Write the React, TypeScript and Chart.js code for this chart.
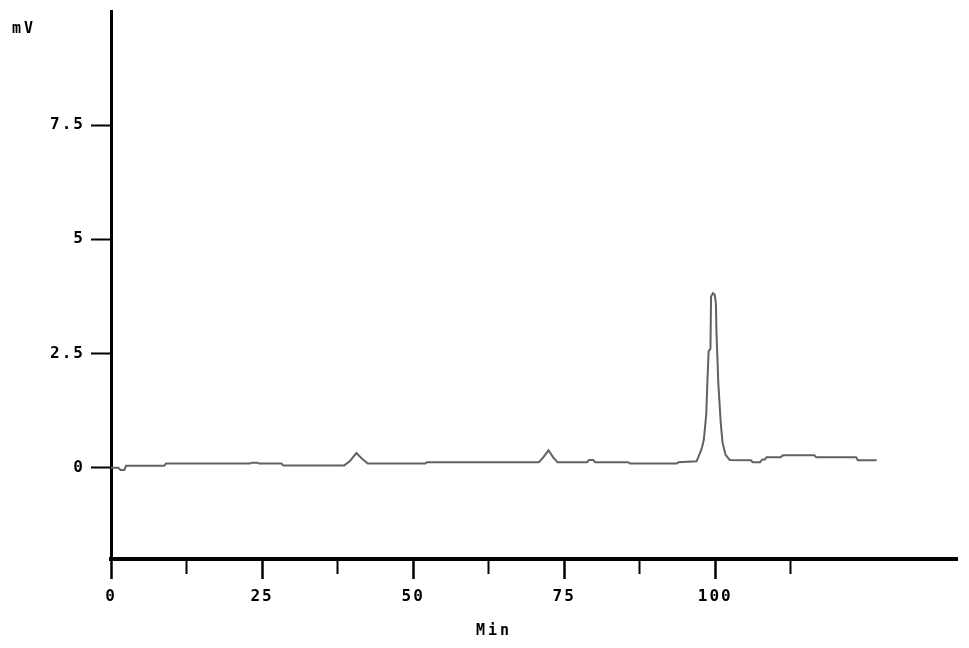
import React, { useEffect, useRef } from "react";
import { Chart, registerables } from "chart.js";

Chart.register(...registerables);

// Retention time (min)
const timeMin: number[] = [
  0, 1.2, 1.6, 2.2, 2.5, 8.8, 9.1, 23.0, 23.3, 24.2, 24.5, 28.2, 28.5, 38.6, 39.5, 40.6, 41.5, 42.5,
  52.0, 52.3, 70.8, 71.5, 72.4, 73.2, 73.9, 78.8, 79.1, 79.8, 80.1, 85.6, 85.9, 93.6, 93.9, 96.9,
  97.5, 97.8, 98.1, 98.5, 98.7, 98.9, 99.2, 99.3, 99.6, 99.9, 100.1, 100.2, 100.5, 100.9, 101.2, 101.7, 102.4, 105.9,
  106.2, 107.4, 107.8, 108.2, 108.5, 110.8, 111.2, 116.4, 116.7, 123.3, 123.6, 126.7,
];
// Detector signal (mV)
const signalMV: number[] = [
  0.0, 0.0, -0.05, -0.05, 0.04, 0.04, 0.09, 0.09, 0.11, 0.11, 0.09, 0.09, 0.05, 0.05, 0.14, 0.32, 0.2, 0.09,
  0.09, 0.12, 0.12, 0.22, 0.38, 0.22, 0.12, 0.12, 0.17, 0.17, 0.12, 0.12, 0.09, 0.09, 0.12, 0.14,
  0.33, 0.44, 0.61, 1.16, 1.9, 2.55, 2.6, 3.75, 3.82, 3.79, 3.6, 2.95, 1.86, 0.98, 0.55, 0.28, 0.17, 0.16,
  0.12, 0.12, 0.18, 0.18, 0.23, 0.23, 0.27, 0.27, 0.23, 0.23, 0.16, 0.16,
];

const xTicks: number[] = [0, 12.5, 25, 37.5, 50, 62.5, 75, 87.5, 100, 112.5];
const xLabelled: number[] = [0, 25, 50, 75, 100];
const yTicks: number[] = [0, 2.5, 5, 7.5];

const xTitle = "Min";
const yTitle = "mV";

const FONT = "'DejaVu Sans Mono', monospace";

export default function App() {
  const ref = useRef<HTMLCanvasElement | null>(null);

  useEffect(() => {
    const canvas = ref.current;
    if (!canvas) return;

    const spacing = {
      id: "spacing",
      beforeUpdate(chart: any) {
        chart.ctx.letterSpacing = "2px";
      },
      beforeDraw(chart: any) {
        chart.ctx.letterSpacing = "2px";
      },
      afterDraw(chart: any) {
        const ctx = chart.ctx;
        const area = chart.chartArea;
        ctx.save();
        ctx.letterSpacing = "3px";
        ctx.fillStyle = "#000";
        ctx.font = `bold 15px ${FONT}`;
        ctx.textAlign = "left";
        ctx.textBaseline = "middle";
        ctx.fillText(yTitle, 12, area.top + 18);
        ctx.fillText(xTitle, 476, area.bottom + 72);
        ctx.restore();
      },
    };

    const chart = new Chart(canvas, {
      type: "line",
      data: {
        datasets: [
          {
            data: timeMin.map((t, i) => ({ x: t, y: signalMV[i] })),
            borderColor: "#626262",
            borderWidth: 2,
            pointRadius: 0,
            tension: 0,
            fill: false,
          },
        ],
      },
      options: {
        responsive: false,
        animation: false,
        events: [],
        layout: { padding: { left: 0, top: 11, right: 12, bottom: 0 } },
        plugins: { legend: { display: false }, tooltip: { enabled: false }, title: { display: false } },
        scales: {
          x: {
            type: "linear",
            min: 0,
            max: 140,
            afterBuildTicks: (scale: any) => {
              scale.ticks = xTicks.map((v) => ({ value: v }));
            },
            afterFit: (scale: any) => {
              scale.height = 89;
              scale.paddingLeft = 0;
              scale.paddingRight = 0;
            },
            border: { display: true, color: "#000", width: 4 },
            grid: {
              display: true,
              drawOnChartArea: false,
              drawTicks: true,
              tickLength: 20,
              tickWidth: (ctx: any) => (xLabelled.includes(ctx.tick?.value) ? 2.5 : 2),
              tickColor: "#000",
              tickBorderDash: (ctx: any) => (xLabelled.includes(ctx.tick?.value) ? [] : [13, 40]),
            },
            ticks: {
              autoSkip: false,
              maxRotation: 0,
              padding: 8,
              color: "#000",
              font: { family: FONT, size: 16, weight: "bold" },
              callback: (v: any) => (xLabelled.includes(Number(v)) ? String(v) : ""),
            },
          },
          y: {
            type: "linear",
            min: -2,
            max: 10,
            afterBuildTicks: (scale: any) => {
              scale.ticks = yTicks.map((v) => ({ value: v }));
            },
            afterFit: (scale: any) => {
              scale.width = 111;
              scale.paddingTop = 0;
              scale.paddingBottom = 0;
            },
            border: { display: true, color: "#000", width: 3 },
            grid: {
              display: true,
              drawOnChartArea: false,
              drawTicks: true,
              tickLength: 20,
              tickWidth: 2,
              tickColor: "#000",
            },
            ticks: {
              padding: 6,
              color: "#000",
              font: { family: FONT, size: 16, weight: "bold" },
              callback: (v: any) => String(v),
            },
          },
        },
      },
      plugins: [spacing],
    } as any);

    return () => chart.destroy();
  }, []);

  return (
    <div style={{ position: "absolute", left: 0, top: 0, width: 969, height: 648, background: "#fff" }}>
      <canvas ref={ref} width={969} height={648} style={{ display: "block" }} />
    </div>
  );
}
